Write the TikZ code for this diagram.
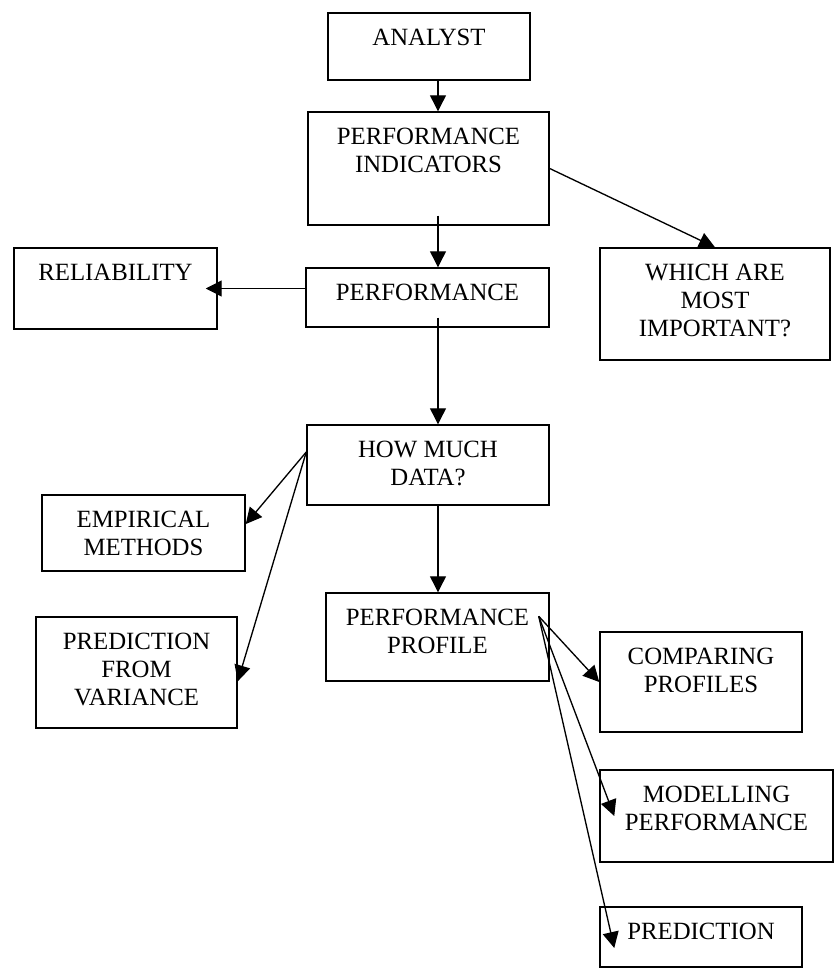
\documentclass[tikz,border=0pt]{standalone}
\usepackage{fontspec}
\setmainfont{Liberation Serif}
\usetikzlibrary{arrows.meta,positioning}
\newdimen\px \px=0.75pt

\begin{document}
\begin{tikzpicture}[x=0.75pt, y=-0.75pt,
  box/.style={draw, line width=1.1pt, inner sep=0pt},
  txt/.style={align=center, inner sep=0pt, font=\fontsize{18.6}{21}\selectfont},
  arr/.style={line width=1pt, -{Triangle[length=12pt, width=12pt]}}]
\useasboundingbox (0,0) rectangle (835,972);%
% boxes
\node[box, minimum width=202\px, minimum height=67\px] (analyst) at (429,46.5) {};%
\node[box, minimum width=241\px, minimum height=113\px] (indic) at (428.5,168.5) {};%
\node[box, minimum width=203\px, minimum height=81\px] (rel) at (115.5,288.5) {};%
\node[box, minimum width=243\px, minimum height=59\px] (perf) at (427.5,297.5) {};%
\node[box, minimum width=230\px, minimum height=112\px] (which) at (715,304) {};%
\node[box, minimum width=242\px, minimum height=80\px] (howmuch) at (428,465) {};%
\node[box, minimum width=203\px, minimum height=76\px] (emp) at (143.5,533) {};%
\node[box, minimum width=201\px, minimum height=111\px] (predvar) at (136.5,672.5) {};%
\node[box, minimum width=223\px, minimum height=88\px] (profile) at (437.5,637) {};%
\node[box, minimum width=202\px, minimum height=100\px] (compare) at (701,682) {};%
\node[box, minimum width=233\px, minimum height=92\px] (model) at (716.5,816) {};%
\node[box, minimum width=202\px, minimum height=60\px] (pred) at (701,937) {};%
% texts
\node[txt, below=12.6pt of analyst.north] (t-analyst) {ANALYST};%
\node[txt, below=12.6pt of indic.north] (t-indic) {PERFORMANCE\\INDICATORS};%
\node[txt, below=12.6pt of rel.north] (t-rel) {RELIABILITY};%
\node[txt, below=12.6pt of perf.north] (t-perf) {PERFORMANCE};%
\node[txt, below=12.6pt of which.north] (t-which) {WHICH ARE\\MOST\\IMPORTANT?};%
\node[txt, below=12.6pt of howmuch.north] (t-howmuch) {HOW MUCH\\DATA?};%
\node[txt, below=12.6pt of emp.north] (t-emp) {EMPIRICAL\\METHODS};%
\node[txt, below=12.6pt of predvar.north] (t-predvar) {PREDICTION\\FROM\\VARIANCE};%
\node[txt, below=12.6pt of profile.north] (t-profile) {PERFORMANCE\\PROFILE};%
\node[txt, below=12.6pt of compare.north] (t-compare) {COMPARING\\PROFILES};%
\node[txt, below=12.6pt of model.north] (t-model) {MODELLING\\PERFORMANCE};%
\node[txt, below=12.6pt of pred.north] (t-pred) {PREDICTION};%
% arrows
\coordinate (col) at (438,0);%
\coordinate (hw) at ([yshift=9.75pt]howmuch.west);%
\coordinate (pf) at ([xshift=-8.25pt, yshift=-18pt]profile.north east);%
\draw[arr] (analyst.south -| col) -- (indic.north -| col);%
\draw[arr, shorten <=-7.5pt] (indic.south -| col) -- (perf.north -| col);%
\draw[arr, shorten <=-7.5pt] (perf.south -| col) -- (howmuch.north -| col);%
\draw[arr] (howmuch.south -| col) -- (profile.north -| col);%
\draw[arr] (indic.east) -- (which.north);%
\draw[arr] (perf.west |- rel.east) -- ([xshift=-9pt]rel.east);%
\draw[arr] (hw) -- (emp.5);%
\draw[arr] (hw) -- (predvar.-5);%
\draw[arr] (pf) -- (compare.west);%
\draw[arr] (pf) -- ([xshift=11.25pt]model.west);%
\draw[arr] (pf) -- ([xshift=11.25pt, yshift=-8.25pt]pred.west);%
\end{tikzpicture}
\end{document}
